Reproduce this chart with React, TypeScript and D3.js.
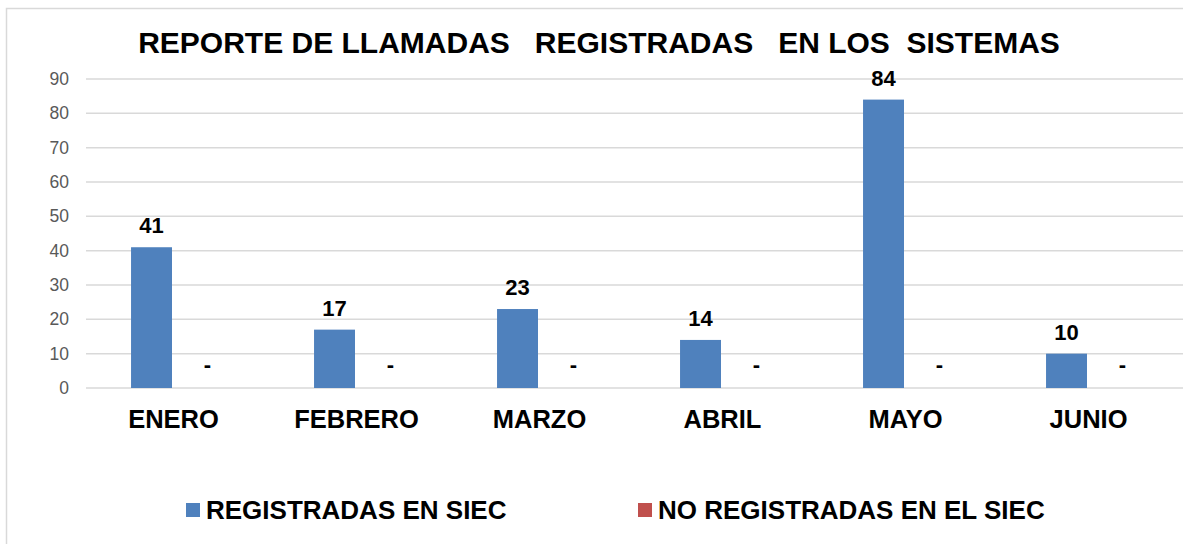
import React, { useEffect, useRef } from 'react';
import * as d3 from 'd3';

const categories = ['ENERO', 'FEBRERO', 'MARZO', 'ABRIL', 'MAYO', 'JUNIO'];
const seriesNames = ['REGISTRADAS EN SIEC', 'NO REGISTRADAS EN EL SIEC'];
const registradas = [41, 17, 23, 14, 84, 10];
const noRegistradas = [0, 0, 0, 0, 0, 0];
const yTicks = [0, 10, 20, 30, 40, 50, 60, 70, 80, 90];
const colors = ['#4f81bd', '#c0504d'];
const title = 'REPORTE DE LLAMADAS   REGISTRADAS   EN LOS  SISTEMAS';

const W = 1183;
const H = 544;
const FONT = '"Liberation Sans", Arial, sans-serif';

const App = () => {
  const svgRef = useRef<SVGSVGElement>(null);

  useEffect(() => {
    const svg = d3.select(svgRef.current);
    svg.selectAll('*').remove();

    // chart frame (cut off on the right and bottom)
    svg.append('rect')
      .attr('x', 6.5).attr('y', 8.5)
      .attr('width', W + 20).attr('height', H + 20)
      .attr('fill', '#fff').attr('stroke', '#d9d9d9').attr('stroke-width', 1.5);

    const x = d3.scaleBand().domain(categories).range([86, 1184]).padding(0);
    const xSub = d3.scaleBand().domain(seriesNames).range([0, x.bandwidth()])
      .paddingInner(15 / 56).paddingOuter(0.77).align(0.523);
    const y = d3.scaleLinear().domain([0, 90]).range([388, 79]);

    // gridlines
    svg.append('g').selectAll('line').data(yTicks).enter().append('line')
      .attr('x1', 86).attr('x2', W)
      .attr('y1', d => y(d)).attr('y2', d => y(d))
      .attr('stroke', '#d9d9d9').attr('stroke-width', 1.5);

    // y axis labels
    const yAxis = svg.append('g').attr('transform', 'translate(69,0)')
      .call(d3.axisLeft(y).tickValues(yTicks).tickSize(0).tickPadding(0));
    yAxis.select('.domain').remove();
    yAxis.selectAll('text')
      .attr('font-family', FONT).attr('font-size', 17.5).attr('fill', '#595959');

    const series = [registradas, noRegistradas];
    series.forEach((vals, si) => {
      const g = svg.append('g');
      g.selectAll('rect').data(vals).enter().append('rect')
        .attr('x', (d, i) => (x(categories[i]) as number) + (xSub(seriesNames[si]) as number))
        .attr('y', d => y(d))
        .attr('width', xSub.bandwidth())
        .attr('height', d => y(0) - y(d))
        .attr('fill', colors[si]);
      g.selectAll('text').data(vals).enter().append('text')
        .attr('x', (d, i) => (x(categories[i]) as number) + (xSub(seriesNames[si]) as number) + xSub.bandwidth() / 2)
        .attr('y', d => y(d) - (d === 0 ? 16 : 14))
        .attr('text-anchor', 'middle')
        .attr('font-family', FONT).attr('font-weight', 'bold').attr('font-size', 22)
        .attr('fill', '#000')
        .text(d => (d === 0 ? '-' : String(d)));
    });

    // category labels
    svg.append('g').selectAll('text').data(categories).enter().append('text')
      .attr('x', d => (x(d) as number) + x.bandwidth() / 2 - 4)
      .attr('y', 428)
      .attr('text-anchor', 'middle')
      .attr('font-family', FONT).attr('font-weight', 'bold').attr('font-size', 25.5)
      .attr('fill', '#000')
      .text(d => d);

    // title
    svg.append('text')
      .attr('x', 599).attr('y', 53)
      .attr('text-anchor', 'middle')
      .attr('font-family', FONT).attr('font-weight', 'bold').attr('font-size', 30)
      .style('white-space', 'pre')
      .attr('fill', '#000')
      .text(title);

    // legend
    const legendX = [186, 638];
    const legend = svg.append('g').selectAll('g').data(seriesNames).enter().append('g')
      .attr('transform', (d, i) => `translate(${legendX[i]},503)`);
    legend.append('rect')
      .attr('width', 14).attr('height', 14)
      .attr('fill', (d, i) => colors[i]);
    legend.append('text')
      .attr('x', 20).attr('y', 16)
      .attr('font-family', FONT).attr('font-weight', 'bold').attr('font-size', 26)
      .attr('fill', '#000')
      .text(d => d);
  }, []);

  return (
    <div style={{ position: 'absolute', left: 0, top: 0 }}>
      <svg ref={svgRef} width={W} height={H} style={{ display: 'block', background: '#fff' }}></svg>
    </div>
  );
};

export default App;
